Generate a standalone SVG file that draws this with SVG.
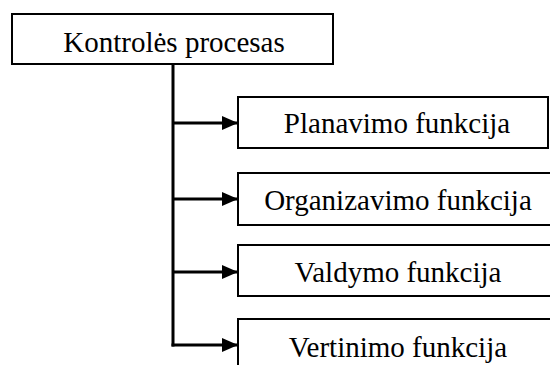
<svg xmlns="http://www.w3.org/2000/svg" width="550" height="365" viewBox="0 0 550 365">
<style>
.box{fill:#fff;stroke:#000;stroke-width:2}
.t{font-family:"Liberation Serif","Times New Roman",serif;font-size:29px;fill:#000;text-anchor:middle}
.c{fill:none;stroke:#000;stroke-width:3}
</style>
<defs>
<marker id="ah" markerWidth="16" markerHeight="14" refX="16" refY="7" orient="auto" markerUnits="userSpaceOnUse">
<path d="M0,0 L16,7 L0,14 Z" fill="#000"/>
</marker>
</defs>
<rect width="550" height="365" fill="#fff"/>
<g id="n0"><rect class="box" x="12" y="14" width="321" height="50"/><text class="t" x="174" y="52">Kontrolės procesas</text></g>
<g id="n1"><rect class="box" x="238" y="97" width="310" height="51"/><text class="t" x="397" y="133">Planavimo funkcija</text></g>
<g id="n2"><rect class="box" x="238" y="173" width="320" height="52"/><text class="t" x="398" y="210">Organizavimo funkcija</text></g>
<g id="n3"><rect class="box" x="238" y="245" width="320" height="51"/><text class="t" x="398" y="282">Valdymo funkcija</text></g>
<g id="n4"><rect class="box" x="238" y="319" width="320" height="60"/><text class="t" x="398" y="357">Vertinimo funkcija</text></g>
<g id="connectors">
<path class="c" d="M173,64 V346.5"/>
<path class="c" d="M173,123 H238" marker-end="url(#ah)"/>
<path class="c" d="M173,199 H238" marker-end="url(#ah)"/>
<path class="c" d="M173,272 H238" marker-end="url(#ah)"/>
<path class="c" d="M171.5,345 H238" marker-end="url(#ah)"/>
</g>
</svg>
